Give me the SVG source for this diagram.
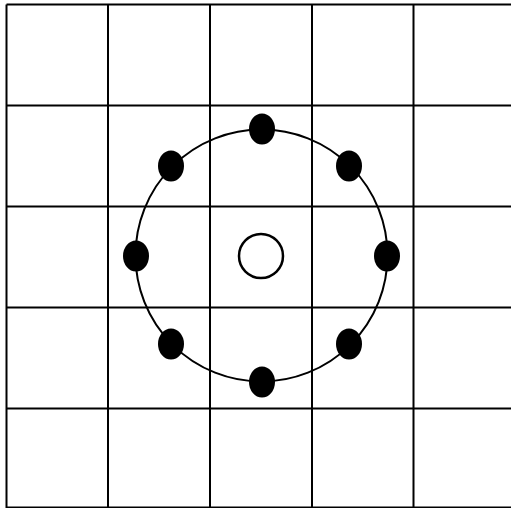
<svg xmlns="http://www.w3.org/2000/svg" width="511" height="508" viewBox="0 0 511 508">
<style>
.g{stroke:#000;stroke-width:2;fill:none}
.dot{fill:#000}
</style>
<rect width="511" height="508" fill="#fff"/>
<g id="grid" class="g">
<line x1="6.5" y1="4.5" x2="6.5" y2="508"/>
<line x1="108" y1="4.5" x2="108" y2="508"/>
<line x1="210" y1="4.5" x2="210" y2="508"/>
<line x1="312" y1="4.5" x2="312" y2="508"/>
<line x1="413.5" y1="4.5" x2="413.5" y2="508"/>
<line x1="6.5" y1="4.5" x2="511" y2="4.5"/>
<line x1="6.5" y1="105.5" x2="511" y2="105.5"/>
<line x1="6.5" y1="206.5" x2="511" y2="206.5"/>
<line x1="6.5" y1="307.5" x2="511" y2="307.5"/>
<line x1="6.5" y1="408.5" x2="511" y2="408.5"/>
<line x1="6.5" y1="507.5" x2="511" y2="507.5"/>
</g>
<g id="ring"><circle cx="261.5" cy="255.5" r="126" class="g"/></g>
<g id="center"><circle cx="261" cy="256" r="22" fill="#fff" stroke="#000" stroke-width="2.5"/></g>
<g id="dots" class="dot">
<ellipse cx="262" cy="129" rx="13" ry="15.5"/>
<ellipse cx="349" cy="166" rx="13" ry="15.5"/>
<ellipse cx="387" cy="256" rx="13" ry="15.5"/>
<ellipse cx="349" cy="344" rx="13" ry="15.5"/>
<ellipse cx="262" cy="382" rx="13" ry="15.5"/>
<ellipse cx="171" cy="344" rx="13" ry="15.5"/>
<ellipse cx="136" cy="256" rx="13" ry="15.5"/>
<ellipse cx="171" cy="166" rx="13" ry="15.5"/>
</g>
</svg>
